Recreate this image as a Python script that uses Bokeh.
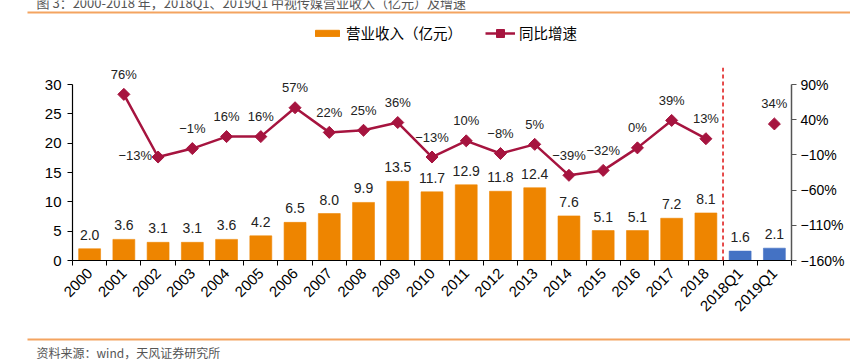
import math
from bokeh.plotting import figure
from bokeh.layouts import column
from bokeh.models import (Range1d, LinearAxis, FixedTicker, Span, Legend, LegendItem,
                          ColumnDataSource, CustomJSTickFormatter)
from bokeh.core.properties import value
from bokeh.embed import file_html
from bokeh.resources import INLINE

categories = ["2000", "2001", "2002", "2003", "2004", "2005", "2006", "2007", "2008", "2009",
              "2010", "2011", "2012", "2013", "2014", "2015", "2016", "2017", "2018",
              "2018Q1", "2019Q1"]
revenue = [2.0, 3.6, 3.1, 3.1, 3.6, 4.2, 6.5, 8.0, 9.9, 13.5, 11.7, 12.9, 11.8, 12.4,
           7.6, 5.1, 5.1, 7.2, 8.1, 1.6, 2.1]
growth = [None, 76, -13, -1, 16, 16, 57, 22, 25, 36, -13, 10, -8, 5, -39, -32, 0, 39, 13,
          None, 34]
left_ticks = [0, 5, 10, 15, 20, 25, 30]
right_ticks = [-160, -110, -60, -10, 40, 90]

title_text = "图 3：2000-2018 年，2018Q1、2019Q1 中视传媒营业收入（亿元）及增速"
source_text = "资料来源：wind，天风证券研究所"
bar_name = "营业收入（亿元）"
line_name = "同比增速"

ORANGE = "#EE8500"
BLUE = "#4472C4"
RED = "#A6143F"
RULE = "#F4A460"
CJK = "Noto Sans CJK SC"
LAT = "Liberation Sans"
W = 850
TOP_H, MAIN_H, BOT_H = 56, 274, 30
NAN = float("nan")


def strip(height, y_top_page):
    f = figure(width=W, height=height, output_backend="svg", toolbar_location=None,
               x_range=Range1d(0, W), y_range=Range1d(y_top_page + height, y_top_page),
               x_axis_type=None, y_axis_type=None, min_border=0, frame_align=False,
               outline_line_color=None, background_fill_color="white",
               border_fill_color="white")
    f.grid.visible = False
    return f


# ---------------- top strip: title, rule, legend ----------------
pt = strip(TOP_H, 0)
pt.text(x=[36], y=[2], text=[title_text], text_font=value(CJK), text_font_size="13px",
        text_color="#555555", text_baseline="middle")
pt.segment(x0=[27], y0=[12], x1=[W], y1=[12], line_color=RULE, line_width=2)

# legend-only renderers (no visible data)
dummy_bar = pt.vbar(x=[NAN], top=[NAN], width=1, fill_color=ORANGE, line_color=ORANGE)
dummy_line = pt.line(x=[NAN], y=[NAN], line_color=RED, line_width=2.5)
dummy_mark = pt.scatter(x=[NAN], y=[NAN], marker="square", angle=math.pi / 4, size=8,
                        fill_color=RED, line_color=RED)

leg1 = Legend(items=[LegendItem(label=bar_name, renderers=[dummy_bar])],
              location=(312, 13), padding=0, margin=0, label_standoff=4,
              glyph_width=30, glyph_height=8, label_height=8,
              border_line_color=None, background_fill_alpha=0,
              label_text_font=CJK, label_text_font_size="14.5px", label_text_color="black")
leg2 = Legend(items=[LegendItem(label=line_name, renderers=[dummy_line, dummy_mark])],
              location=(485, 13), padding=0, margin=0, label_standoff=4,
              glyph_width=30, glyph_height=20, label_height=20,
              border_line_color=None, background_fill_alpha=0,
              label_text_font=CJK, label_text_font_size="14.5px", label_text_color="black")
pt.add_layout(leg1, "center")
pt.add_layout(leg2, "center")

# ---------------- main chart ----------------
n = len(categories)
xs = list(range(n))
extra = 2.9  # headroom above the 30 tick so the separator can rise above it
y_top = left_ticks[-1] + extra
g_top = right_ticks[-1] + extra * (right_ticks[-1] - right_ticks[0]) / (left_ticks[-1] - left_ticks[0])

p = figure(width=W, height=MAIN_H, output_backend="svg", toolbar_location=None,
           x_range=Range1d(-0.5, n - 0.5), y_range=Range1d(0, y_top), frame_align=False,
           min_border_left=72, min_border_right=59, min_border_top=11, min_border_bottom=70,
           outline_line_color=None, background_fill_color="white", border_fill_color="white")
p.xgrid.visible = False
p.ygrid.visible = False
p.extra_y_ranges = {"g": Range1d(right_ticks[0], g_top)}

colors = [BLUE if c.endswith("Q1") else ORANGE for c in categories]
bar_src = ColumnDataSource(dict(x=xs, top=revenue, color=colors,
                                label=[f"{v:.1f}" for v in revenue]))
p.vbar(x="x", top="top", width=0.64, source=bar_src, fill_color="color",
       line_color="color", line_alpha=0.6)
p.text(x="x", y="top", text="label", source=bar_src, text_align="center",
       text_baseline="middle", y_offset=-14, text_font=value(LAT),
       text_font_size="14px", text_color="#222222")

p.add_layout(Span(location=categories.index("2018") + 0.5, dimension="height",
                  line_color="#E02020", line_dash="4 3", line_width=1.6))

annual_idx = [i for i, c in enumerate(categories) if not c.endswith("Q1") and growth[i] is not None]
p.line(x=annual_idx, y=[growth[i] for i in annual_idx], y_range_name="g",
       line_color=RED, line_width=2.5)
gi = [i for i in range(n) if growth[i] is not None]
p.scatter(x=gi, y=[growth[i] for i in gi], y_range_name="g", marker="square",
          angle=math.pi / 4, size=8.5, fill_color=RED, line_color=RED)


def pct(v):
    return ("\u2212" if v < 0 else "") + f"{abs(v)}%"


left_side = {"2002"}
above = [i for i in gi if categories[i] not in left_side]
side = [i for i in gi if categories[i] in left_side]
p.text(x=above, y=[growth[i] for i in above], text=[pct(growth[i]) for i in above],
       y_range_name="g", text_align="center", text_baseline="middle", y_offset=-20,
       text_font=value(LAT), text_font_size="13px", text_color="#222222")
p.text(x=side, y=[growth[i] for i in side], text=[pct(growth[i]) for i in side],
       y_range_name="g", text_align="right", text_baseline="middle", x_offset=-6, y_offset=-2,
       text_font=value(LAT), text_font_size="13px", text_color="#222222")

xa = p.xaxis[0]
xa.ticker = FixedTicker(ticks=xs, minor_ticks=[i - 0.5 for i in range(n + 1)])
xa.major_label_overrides = {i: c for i, c in enumerate(categories)}
xa.major_tick_line_color = None
xa.minor_tick_line_color = "black"
xa.minor_tick_out = 5
xa.minor_tick_in = 0
xa.axis_line_color = "black"
xa.axis_line_width = 1.2
xa.major_label_orientation = math.pi / 4
xa.major_label_text_font = LAT
xa.major_label_text_font_size = "15px"
xa.major_label_text_color = "black"
xa.major_label_standoff = 4

ya = p.yaxis[0]
ya.ticker = FixedTicker(ticks=left_ticks, minor_ticks=[])
ya.bounds = (left_ticks[0], left_ticks[-1])
ya.major_tick_out = 5
ya.major_tick_in = 0
ya.axis_line_color = "black"
ya.axis_line_width = 1.2
ya.major_tick_line_color = "black"
ya.major_label_text_font = LAT
ya.major_label_text_font_size = "15px"
ya.major_label_text_color = "black"
ya.major_label_standoff = 6

ra = LinearAxis(y_range_name="g")
ra.ticker = FixedTicker(ticks=right_ticks, minor_ticks=[])
ra.bounds = (right_ticks[0], right_ticks[-1])
ra.formatter = CustomJSTickFormatter(
    code="return (tick < 0 ? '\u2212' + Math.abs(tick) : tick) + '%';")
ra.major_tick_out = 5
ra.major_tick_in = 0
ra.axis_line_color = "#555555"
ra.axis_line_width = 1.5
ra.major_tick_line_color = "#555555"
ra.major_label_text_font = LAT
ra.major_label_text_font_size = "14px"
ra.major_label_text_color = "black"
ra.major_label_standoff = 4
p.add_layout(ra, "right")

# ---------------- bottom strip: rule, source ----------------
pb = strip(BOT_H, TOP_H + MAIN_H)
pb.segment(x0=[27], y0=[339], x1=[W], y1=[339], line_color=RULE, line_width=2)
pb.text(x=[36], y=[352], text=[source_text], text_font=value(CJK), text_font_size="12px",
        text_color="#555555", text_baseline="middle")

layout = column(pt, p, pb, spacing=0)
open("out.html", "w").write(file_html(layout, INLINE))
